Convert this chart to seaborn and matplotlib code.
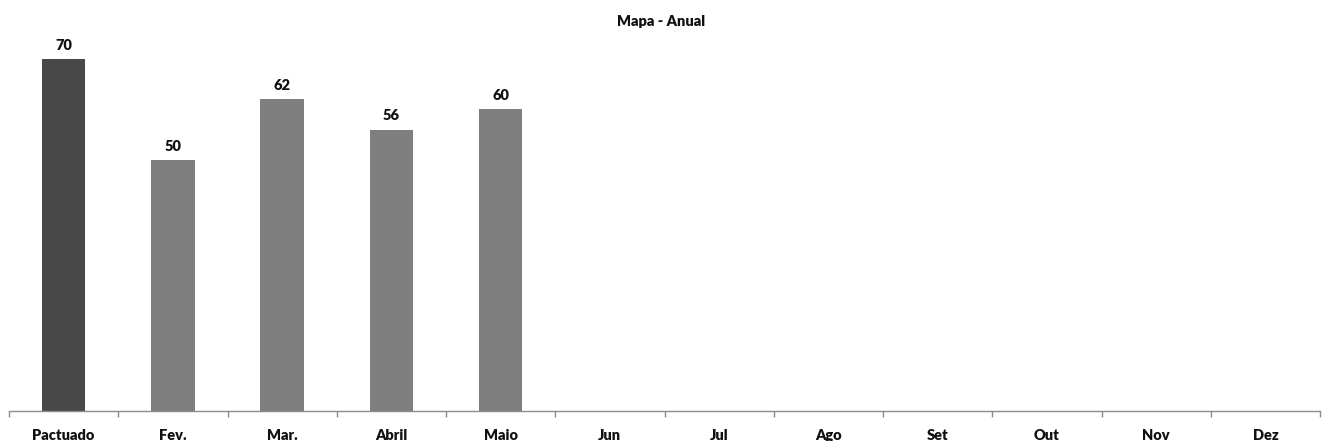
import numpy as np
import pandas as pd
import matplotlib
matplotlib.use("Agg")
import matplotlib.pyplot as plt
from matplotlib.ticker import FixedLocator
import seaborn as sns

categories = ["Pactuado", "Fev.", "Mar.", "Abril", "Maio", "Jun", "Jul",
              "Ago", "Set", "Out", "Nov", "Dez"]
values = [70, 50, 62, 56, 60, np.nan, np.nan, np.nan, np.nan, np.nan, np.nan, np.nan]
bar_colors = ["#484848"] + ["#7f7f7f"] * 11
title = "Mapa - Anual"

sns.set_theme(style="white")
plt.rcParams["font.family"] = ["Lato", "DejaVu Sans"]

df = pd.DataFrame({"mes": categories, "valor": values})

fig = plt.figure(figsize=(13.22, 4.41), dpi=100)
ax = fig.add_axes([9 / 1322, 30 / 441, 1311 / 1322, 377 / 441])

sns.barplot(data=df, x="mes", y="valor", hue="mes", palette=bar_colors,
            order=categories, hue_order=categories, width=0.4,
            legend=False, ax=ax, saturation=1, linewidth=0)

FS = 10.5
for i, v in enumerate(values):
    if not np.isnan(v):
        ax.text(i, v + 1.4, f"{v:.0f}", ha="center", va="bottom",
                fontsize=FS, fontweight="heavy", color="#111111")

ax.set_ylim(0, 75)
ax.set_xlim(-0.5, len(categories) - 0.5)
ax.set_xlabel("")
ax.set_ylabel("")
ax.set_yticks([])
for s in ["top", "right", "left"]:
    ax.spines[s].set_visible(False)
ax.spines["bottom"].set_color("#8c8c8c")
ax.spines["bottom"].set_linewidth(1.0)

ax.tick_params(axis="x", which="major", length=0, pad=13,
               labelsize=FS, labelcolor="#111111")
for lbl in ax.get_xticklabels():
    lbl.set_fontweight("heavy")
ax.xaxis.set_minor_locator(FixedLocator(np.arange(-0.5, len(categories) + 0.5, 1)))
ax.tick_params(axis="x", which="minor", bottom=True, length=4, width=1,
               color="#8c8c8c", direction="out")

fig.text(0.5, 1 - 21 / 441, title, ha="center", va="center",
         fontsize=FS, fontweight="heavy", color="#111111")

fig.savefig("out.png", dpi=100)
